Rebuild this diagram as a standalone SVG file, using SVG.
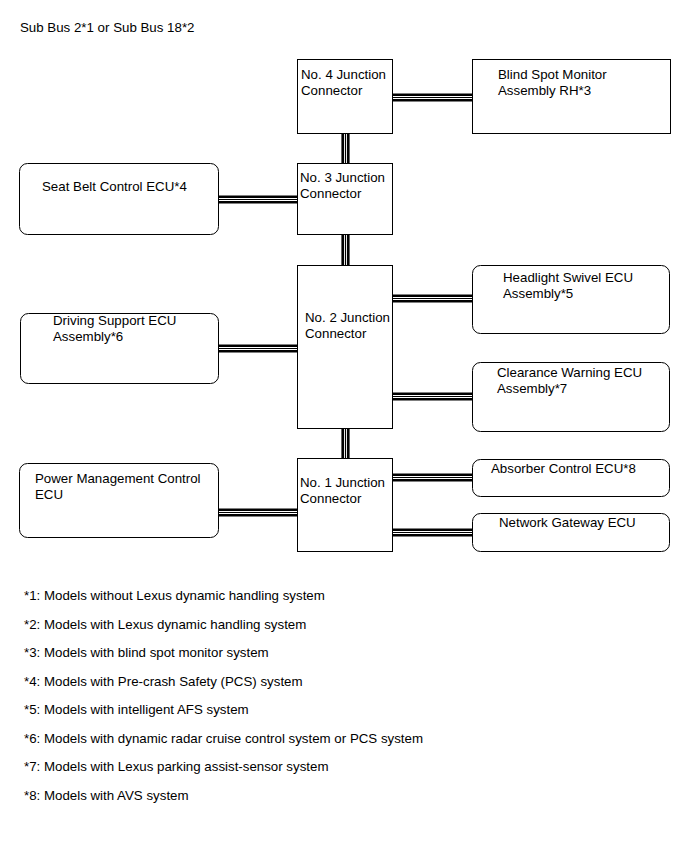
<svg xmlns="http://www.w3.org/2000/svg" width="690" height="853" viewBox="0 0 690 853">
<style>
text{font-family:"Liberation Sans",Arial,sans-serif;font-size:13.3px;fill:#000}
.box{fill:#fff;stroke:#000;stroke-width:1}
.ecu{fill:#fff;stroke:#000;stroke-width:1}
.wk{stroke:#000;stroke-width:2.6;fill:none}
.wt{stroke:#000;stroke-width:1.2;fill:none}
</style>
<rect width="690" height="853" fill="#fff"/>
<text x="20" y="32">Sub Bus 2*1 or Sub Bus 18*2</text>
<g id="connectors">
<path class="wk" d="M392 94.7H472M392 100.3H472M218 196.7H297M218 202.3H297M392 295.7H472M392 301.3H472M218 345.7H297M218 351.3H297M392 393.7H472M392 399.3H472M218 509.7H297M218 515.3H297M392 474.7H472M392 480.3H472M392 529.7H472M392 535.3H472"/>
<path class="wt" d="M392 97.5H472M218 199.5H297M392 298.5H472M218 348.5H297M392 396.5H472M218 512.5H297M392 477.5H472M392 532.5H472"/>
<path class="wk" d="M342.7 133V163M348.3 133V163M342.7 234V265M348.3 234V265M342.7 428V458M348.3 428V458"/>
<path class="wt" d="M345.5 133V163M345.5 234V265M345.5 428V458"/>
</g>
<g id="jc4"><rect class="box" x="297.5" y="59.5" width="95" height="74"/><text x="301" y="79">No. 4 Junction</text><text x="301" y="95">Connector</text></g>
<g id="bsm"><rect class="box" x="472.5" y="59.5" width="198" height="74"/><text x="498" y="79">Blind Spot Monitor</text><text x="498" y="95">Assembly RH*3</text></g>
<g id="jc3"><rect class="box" x="297.5" y="163.5" width="95" height="71"/><text x="300" y="182">No. 3 Junction</text><text x="300" y="198">Connector</text></g>
<g id="seatbelt"><rect class="ecu" x="19.5" y="163.5" width="199" height="71" rx="8"/><text x="42" y="191">Seat Belt Control ECU*4</text></g>
<g id="jc2"><rect class="box" x="297.5" y="265.5" width="95" height="163"/><text x="305" y="322">No. 2 Junction</text><text x="305" y="338">Connector</text></g>
<g id="headlight"><rect class="ecu" x="472.5" y="265.5" width="197" height="68" rx="8"/><text x="503" y="282">Headlight Swivel ECU</text><text x="503" y="298">Assembly*5</text></g>
<g id="driving"><rect class="ecu" x="20.5" y="313.5" width="198" height="70" rx="8"/><text x="53" y="325">Driving Support ECU</text><text x="53" y="341">Assembly*6</text></g>
<g id="clearance"><rect class="ecu" x="472.5" y="362.5" width="197" height="69" rx="8"/><text x="497" y="377">Clearance Warning ECU</text><text x="497" y="393">Assembly*7</text></g>
<g id="jc1"><rect class="box" x="297.5" y="458.5" width="95" height="93"/><text x="300" y="487">No. 1 Junction</text><text x="300" y="503">Connector</text></g>
<g id="power"><rect class="ecu" x="19.5" y="463.5" width="199" height="74" rx="8"/><text x="35" y="483">Power Management Control</text><text x="35" y="499">ECU</text></g>
<g id="absorber"><rect class="ecu" x="472.5" y="459.5" width="197" height="37" rx="8"/><text x="491" y="473">Absorber Control ECU*8</text></g>
<g id="gateway"><rect class="ecu" x="472.5" y="513.5" width="197" height="38" rx="8"/><text x="499" y="527">Network Gateway ECU</text></g>
<g id="notes">
<text x="24" y="600">*1: Models without Lexus dynamic handling system</text>
<text x="24" y="628.5">*2: Models with Lexus dynamic handling system</text>
<text x="24" y="657">*3: Models with blind spot monitor system</text>
<text x="24" y="685.5">*4: Models with Pre-crash Safety (PCS) system</text>
<text x="24" y="714">*5: Models with intelligent AFS system</text>
<text x="24" y="742.5">*6: Models with dynamic radar cruise control system or PCS system</text>
<text x="24" y="771">*7: Models with Lexus parking assist-sensor system</text>
<text x="24" y="799.5">*8: Models with AVS system</text>
</g>
</svg>
